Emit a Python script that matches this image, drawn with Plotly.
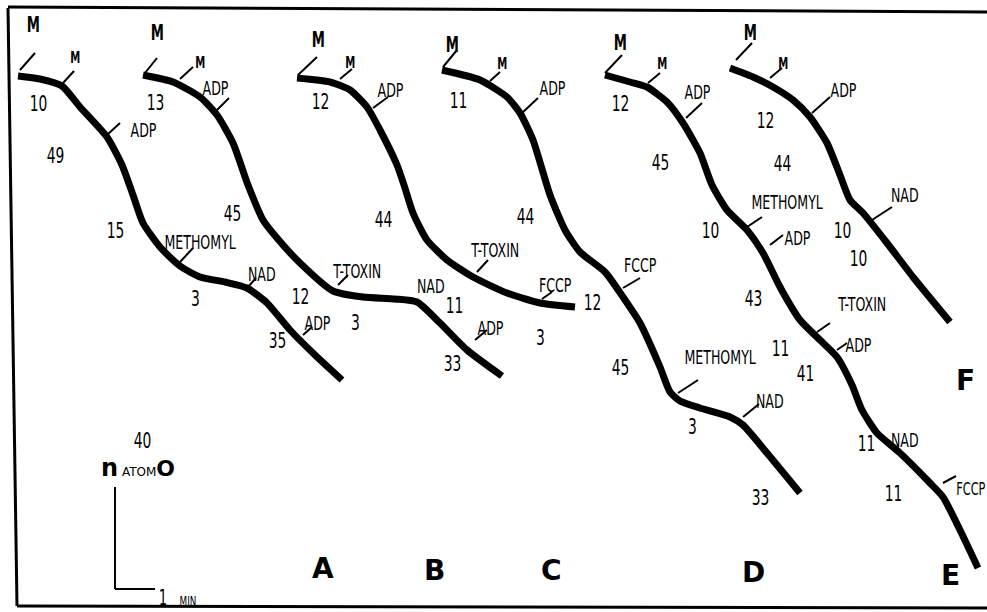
import plotly.graph_objects as go

# ---- oxygen-electrode traces (x: chart time units, y: O2 level, chart units; y grows downward) ----
A_X = [18, 40, 62, 80, 107, 122, 133, 143, 160, 180, 200, 225, 247, 267, 290, 315, 342]
A_Y = [76, 79, 86, 107, 137, 165, 195, 223, 247, 266, 277, 282, 288, 303, 330, 355, 380]

B_X = [143, 173, 200, 217, 233, 248, 263, 277, 300, 333, 363, 395, 417, 440, 467, 502]
B_Y = [75, 82, 97, 115, 143, 185, 220, 238, 263, 291, 297, 299, 302, 323, 350, 376]

C_X = [297, 330, 350, 367, 380, 397, 404, 413, 427, 447, 473, 507, 540, 575]
C_Y = [78, 82, 90, 107, 130, 165, 185, 213, 240, 260, 277, 293, 303, 307]

D_X = [442, 480, 507, 520, 533, 550, 565, 580, 605, 623, 640, 660, 670, 680, 700, 730, 743, 767, 800]
D_Y = [70, 80, 97, 113, 140, 195, 230, 252, 272, 297, 323, 367, 392, 401, 408, 417, 425, 453, 493]

E_X = [605, 630, 647, 667, 683, 700, 712, 727, 747, 763, 780, 800, 820, 837, 852, 862, 877, 900, 930, 943, 960, 978]
E_Y = [75, 82, 87, 102, 123, 153, 185, 210, 230, 253, 287, 320, 340, 357, 385, 410, 433, 453, 483, 497, 530, 568]

F_X = [730, 753, 773, 793, 810, 827, 840, 850, 863, 887, 913, 950]
F_Y = [68, 77, 87, 100, 117, 143, 175, 200, 213, 243, 277, 322]

TRACES = [(A_X, A_Y), (B_X, B_Y), (C_X, C_Y), (D_X, D_Y), (E_X, E_Y), (F_X, F_Y)]

# ---- addition marks (short slashes from the trace to the label) ----
MARK_X0 = [20, 63, 107, 180, 248, 303,
           145, 180, 217, 338, 475,
           298, 340, 373, 477, 542,
           443, 490, 522, 623, 678, 743,
           605, 648, 686, 747, 770, 817, 837, 943,
           736, 770, 812, 872]
MARK_Y0 = [70, 83, 135, 262, 287, 335,
           73, 79, 110, 285, 340,
           75, 79, 108, 272, 299,
           67, 81, 113, 288, 393, 417,
           73, 83, 118, 227, 245, 332, 350, 483,
           60, 78, 113, 220]
MARK_X1 = [35, 74, 120, 193, 256, 312,
           157, 193, 229, 348, 487,
           317, 352, 388, 488, 552,
           457, 500, 538, 640, 698, 759,
           622, 660, 702, 762, 783, 830, 847, 956,
           752, 782, 830, 892]
MARK_Y1 = [53, 71, 123, 248, 278, 327,
           58, 67, 98, 275, 330,
           57, 69, 97, 260, 292,
           50, 72, 98, 278, 380, 404,
           55, 73, 103, 217, 235, 323, 343, 476,
           43, 68, 97, 207]

# ---- labels: additions ----
ADD_TEXT = ["M", "M", "ADP", "METHOMYL", "NAD", "ADP",
            "M", "M", "ADP", "T-TOXIN", "NAD", "ADP",
            "M", "M", "ADP", "T-TOXIN", "FCCP",
            "M", "M", "ADP", "FCCP", "METHOMYL", "NAD",
            "M", "M", "ADP", "METHOMYL", "ADP", "T-TOXIN", "ADP", "NAD", "FCCP",
            "M", "M", "ADP", "NAD"]
ADD_X = [33, 75, 143, 200, 262, 317,
         157, 200, 215, 357, 431, 490,
         318, 350, 390, 495, 555,
         452, 502, 552, 640, 720, 770,
         620, 662, 697, 787, 797, 862, 858, 905, 971,
         750, 783, 843, 905]
ADD_Y = [25, 57, 130, 242, 274, 323,
         33, 62, 88, 271, 286, 328,
         40, 62, 90, 250, 285,
         45, 63, 88, 265, 357, 401,
         43, 63, 92, 202, 238, 304, 345, 440, 488,
         33, 63, 90, 195]

# ---- labels: rates (nmol O / min) ----
RATE_TEXT = ["10", "49", "15", "3", "35",
             "13", "45", "12", "3", "11", "33",
             "12", "44", "12", "3",
             "11", "44", "45", "3", "33",
             "12", "45", "10", "43", "11", "41", "11", "11",
             "12", "44", "10", "10"]
RATE_X = [38, 55, 115, 195, 277,
          155, 232, 300, 355, 454, 452,
          320, 383, 592, 540,
          458, 525, 620, 692, 760,
          620, 660, 710, 753, 780, 805, 866, 893,
          765, 782, 842, 858]
RATE_Y = [103, 155, 230, 298, 340,
          102, 213, 296, 322, 305, 363,
          101, 219, 302, 337,
          100, 216, 367, 426, 497,
          103, 162, 230, 298, 348, 373, 443, 493,
          120, 163, 230, 258]

# ---- panel letters ----
PANEL_TEXT = ["A", "B", "C", "D", "E", "F"]
PANEL_X = [323, 434, 551, 753, 950, 965]
PANEL_Y = [568, 570, 570, 572, 575, 380]

LABEL_FONT = "DejaVu Sans Condensed, Liberation Sans Narrow, sans-serif"

fig = go.Figure()

for xs, ys in TRACES:
    fig.add_trace(go.Scatter(x=xs, y=ys, mode="lines",
                             line=dict(color="black", width=7, shape="spline", smoothing=0.6),
                             hoverinfo="skip", showlegend=False))

mx, my = [], []
for x0, y0, x1, y1 in zip(MARK_X0, MARK_Y0, MARK_X1, MARK_Y1):
    mx += [x0, x1, None]
    my += [y0, y1, None]
fig.add_trace(go.Scatter(x=mx, y=my, mode="lines", line=dict(color="black", width=2),
                         hoverinfo="skip", showlegend=False))

for t, x, y in zip(ADD_TEXT, ADD_X, ADD_Y):
    big = t == "M" and y < 48
    if big:
        txt, size = "<b>M</b>", 21
    elif t == "M":
        txt, size = "<b>M</b>", 16
    elif x > 960:
        txt, size = t, 18
    else:
        txt, size = t, 20
    fig.add_annotation(x=x, y=y, text=txt, showarrow=False,
                       font=dict(family=LABEL_FONT, size=size, color="black"))
for t, x, y in zip(RATE_TEXT, RATE_X, RATE_Y):
    fig.add_annotation(x=x, y=y, text=t, showarrow=False,
                       font=dict(family=LABEL_FONT, size=22, color="black"))
for t, x, y in zip(PANEL_TEXT, PANEL_X, PANEL_Y):
    fig.add_annotation(x=x, y=y, text="<b>" + t + "</b>", showarrow=False,
                       font=dict(family="DejaVu Sans, sans-serif", size=28, color="black"))

# scale bar
fig.add_annotation(x=142, y=440, text="40", showarrow=False,
                   font=dict(family=LABEL_FONT, size=22, color="black"))
fig.add_annotation(x=138, y=468, showarrow=False,
                   text="<b><span style='font-size:24px'>n</span></b>"
                        "<span style='font-size:12px'> ATOM</span>"
                        "<b><span style='font-size:22px'>O</span></b>",
                   font=dict(family="DejaVu Sans, sans-serif", size=14, color="black"))
fig.add_annotation(x=163, y=598, text="1", showarrow=False,
                   font=dict(family=LABEL_FONT, size=21, color="black"))
fig.add_annotation(x=188, y=601, text="MIN", showarrow=False,
                   font=dict(family=LABEL_FONT, size=14, color="black"))

shapes = [
    dict(type="line", x0=8, y0=8, x1=17, y1=606, line=dict(color="black", width=3)),
    dict(type="line", x0=8, y0=7, x1=987, y1=12, line=dict(color="black", width=3)),
    dict(type="line", x0=17, y0=606, x1=987, y1=608, line=dict(color="black", width=3)),
    dict(type="line", x0=115, y0=487, x1=115, y1=589, line=dict(color="black", width=2)),
    dict(type="line", x0=115, y0=589, x1=155, y1=589, line=dict(color="black", width=2)),
]

fig.update_layout(
    width=987, height=612,
    margin=dict(l=0, r=0, t=0, b=0),
    paper_bgcolor="white", plot_bgcolor="white",
    xaxis=dict(range=[0, 987], visible=False, fixedrange=True),
    yaxis=dict(range=[612, 0], visible=False, fixedrange=True),
    shapes=shapes,
    showlegend=False,
)

POST = """
document.body.style.margin='0';document.body.style.overflow='hidden';
var gd = document.getElementById('{plot_id}');
function squeeze(){
  if (!gd) { return; }
  gd.querySelectorAll('text.annotation-text').forEach(function(t){
    var ff = t.style.fontFamily || '';
    if (ff.indexOf('Condensed') >= 0) {
      t.style.transformBox = 'fill-box';
      t.style.transformOrigin = 'center';
      t.style.transform = 'scaleX(0.7)';
    }
  });
}
squeeze();
if (gd && gd.on) { gd.on('plotly_afterplot', squeeze); }
"""

fig.write_html("out.html", config={"displayModeBar": False}, post_script=POST)
